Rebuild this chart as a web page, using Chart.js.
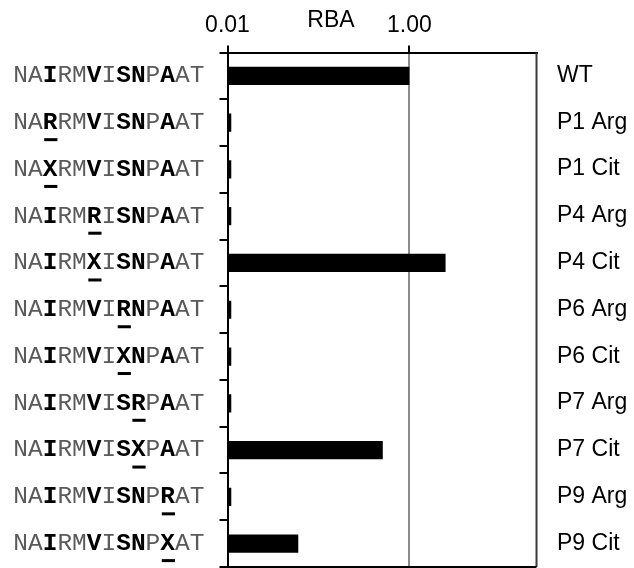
<!DOCTYPE html>
<html>
<head>
<meta charset="utf-8">
<script src="https://cdn.jsdelivr.net/npm/chart.js@4.4.1/dist/chart.umd.min.js"></script>
<style>
  html, body { margin: 0; padding: 0; background: #fff; }
  #wrap { width: 634px; height: 568px; }
</style>
</head>
<body>
<div id="wrap"><canvas id="c" width="634" height="568"></canvas></div>
<script>
// Peptide variants, one per row
const categories = ['WT', 'P1 Arg', 'P1 Cit', 'P4 Arg', 'P4 Cit', 'P6 Arg', 'P6 Cit', 'P7 Arg', 'P7 Cit', 'P9 Arg', 'P9 Cit'];
const sequences = [
  'NAIRMVISNPAAT', 'NARRMVISNPAAT', 'NAXRMVISNPAAT', 'NAIRMRISNPAAT', 'NAIRMXISNPAAT',
  'NAIRMVIRNPAAT', 'NAIRMVIXNPAAT', 'NAIRMVISRPAAT', 'NAIRMVISXPAAT', 'NAIRMVISNPRAT', 'NAIRMVISNPXAT'
];
// Anchor residues shown in bold (P1, P4, P6, P7, P9)
const boldPositions = [2, 5, 7, 8, 10];
// Substituted residue, underlined
const substituted = [null, 2, 2, 5, 5, 7, 7, 8, 8, 10, 10];
// Relative binding affinity
const rba = [1.00, 0.011, 0.011, 0.011, 2.5, 0.011, 0.011, 0.011, 0.51, 0.011, 0.060];
const xTicks = [0.01, 1];

const sideLabels = {
  id: 'sideLabels',
  afterDraw(chart) {
    const ctx = chart.ctx;
    const y = chart.scales.y;
    const area = chart.chartArea;
    const cw = 14.7;
    const x0 = 13.3;
    ctx.save();
    // Right-hand and bottom frame edges
    ctx.strokeStyle = '#3a3a3a';
    ctx.lineWidth = 2;
    ctx.beginPath();
    ctx.moveTo(area.right, area.top);
    ctx.lineTo(area.right, area.bottom);
    ctx.stroke();
    ctx.strokeStyle = '#000';
    ctx.beginPath();
    ctx.moveTo(area.left, area.bottom);
    ctx.lineTo(area.right, area.bottom);
    ctx.stroke();

    // Axis title
    ctx.fillStyle = '#000';
    ctx.font = '23px "Liberation Sans", Arial, sans-serif';
    ctx.textAlign = 'center';
    ctx.textBaseline = 'alphabetic';
    ctx.fillText('RBA', 331, 26.7);

    categories.forEach((name, i) => {
      const cy = y.getPixelForValue(i);
      // sequence with bold anchors
      const seq = sequences[i];
      ctx.textAlign = 'left';
      for (let k = 0; k < seq.length; k++) {
        const bold = boldPositions.includes(k);
        ctx.font = (bold ? 'bold ' : '') + '24.5px "Liberation Mono", "Courier New", monospace';
        ctx.fillStyle = bold ? '#000' : '#5a5a5a';
        ctx.fillText(seq[k], x0 + k * cw, cy + 6.4);
      }
      if (substituted[i] !== null) {
        ctx.fillStyle = '#000';
        ctx.fillRect(x0 + substituted[i] * cw + 1.5, cy + 15.5, cw - 1.5, 3);
      }
      // variant name
      ctx.font = '23px "Liberation Sans", Arial, sans-serif';
      ctx.fillStyle = '#000';
      ctx.fillText(name, 557, cy + 6);
    });
    ctx.restore();
  }
};

new Chart(document.getElementById('c'), {
  type: 'bar',
  data: {
    labels: categories,
    datasets: [{
      data: rba,
      backgroundColor: '#000',
      borderWidth: 0,
      categoryPercentage: 1,
      barPercentage: 0.39
    }]
  },
  options: {
    indexAxis: 'y',
    responsive: false,
    devicePixelRatio: 1,
    animation: false,
    layout: { padding: { left: 219.5, right: 97.5, top: 0, bottom: 1 } },
    plugins: { legend: { display: false }, tooltip: { enabled: false } },
    scales: {
      x: {
        type: 'logarithmic',
        position: 'top',
        min: 0.01,
        max: 25,
        afterFit: s => { s.height = 52.5; },
        afterBuildTicks: s => { s.ticks = xTicks.map(v => ({ value: v, major: false })); },
        ticks: {
          autoSkip: false,
          maxRotation: 0,
          padding: 6,
          color: '#000',
          font: { family: '"Liberation Sans", Arial, sans-serif', size: 23 },
          callback: v => Number(v).toFixed(2)
        },
        grid: {
          drawOnChartArea: true,
          drawTicks: true,
          tickLength: 7,
          lineWidth: 2,
          color: c => (c.tick && c.tick.value === 1) ? '#8c8c8c' : '#000',
          tickColor: '#000'
        },
        border: { display: true, color: '#000', width: 2 }
      },
      y: {
        type: 'category',
        afterFit: s => { s.width = 8; },
        ticks: { display: false },
        grid: {
          offset: true,
          drawOnChartArea: false,
          drawTicks: true,
          tickLength: 8,
          lineWidth: 2,
          color: '#000',
          tickColor: '#000'
        },
        border: { display: true, color: '#000', width: 2 }
      }
    }
  },
  plugins: [sideLabels]
});
</script>
</body>
</html>
